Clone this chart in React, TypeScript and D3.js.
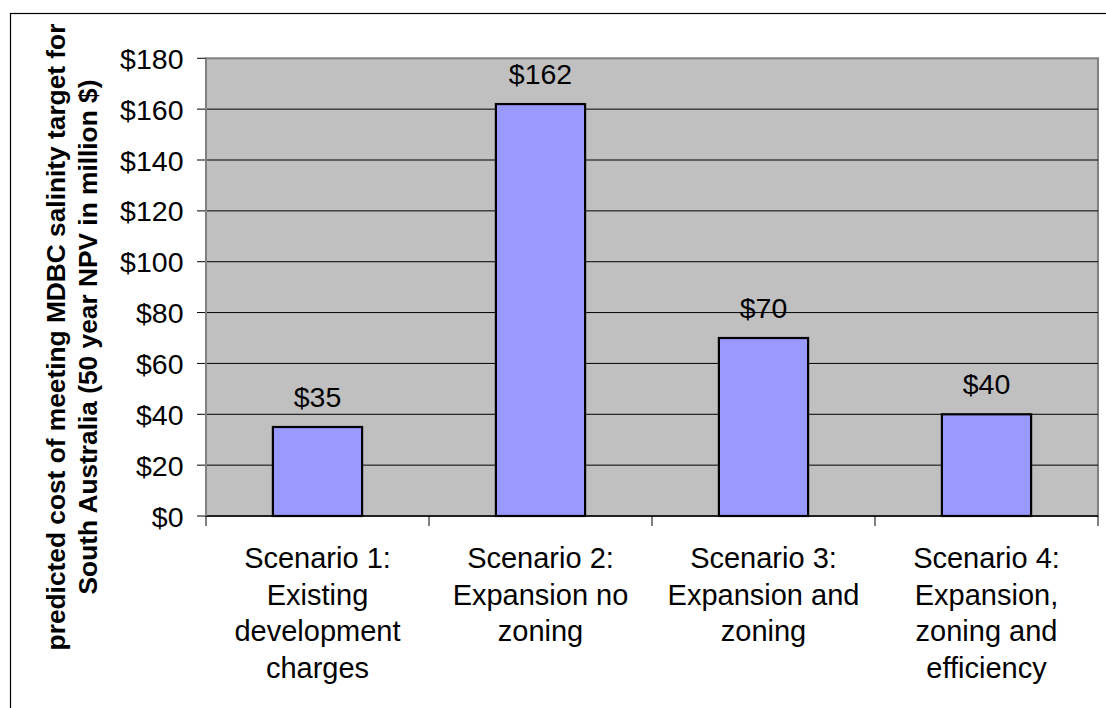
import React from "react";
import * as d3 from "d3";

const categories = [
  ["Scenario 1:", "Existing", "development", "charges"],
  ["Scenario 2:", "Expansion no", "zoning"],
  ["Scenario 3:", "Expansion and", "zoning"],
  ["Scenario 4:", "Expansion,", "zoning and", "efficiency"],
];
const categoryKeys = ["S1", "S2", "S3", "S4"];
const values = [35, 162, 70, 40];
const yTicks = [0, 20, 40, 60, 80, 100, 120, 140, 160, 180];
const yTitle = [
  "predicted cost of meeting MDBC salinity target for",
  "South Australia (50 year NPV in million $)",
];

const W = 1106;
const H = 708;
const plot = { left: 206, right: 1098, top: 58.3, bottom: 516 };
const FONT = "'Liberation Sans', Arial, sans-serif";

export default function App() {
  const x = d3
    .scaleBand<string>()
    .domain(categoryKeys)
    .range([plot.left, plot.right])
    .padding(0);
  const y = d3.scaleLinear().domain([0, 180]).range([plot.bottom, plot.top]);
  const bw = x.bandwidth();
  const barW = bw * 0.4;
  const boundaries = [...categoryKeys.map((k) => x(k)!), plot.right];

  return (
    <svg
      width={W}
      height={H}
      style={{ position: "absolute", left: 0, top: 0, background: "#fff" }}
      fontFamily={FONT}
    >
      <rect x={0} y={0} width={W} height={H} fill="#fff" />
      {/* outer frame */}
      <rect x={10.5} y={13.5} width={W + 20} height={H + 20} fill="none" stroke="#000" strokeWidth={1.2} />
      {/* plot area */}
      <rect
        x={plot.left}
        y={plot.top}
        width={plot.right - plot.left}
        height={plot.bottom - plot.top}
        fill="#C0C0C0"
        stroke="#808080"
        strokeWidth={2}
      />
      {/* gridlines */}
      {yTicks
        .filter((t) => t !== 0 && t !== 180)
        .map((t) => (
          <line key={t} x1={plot.left} x2={plot.right} y1={y(t)} y2={y(t)} stroke="#000" strokeWidth={1} />
        ))}
      {/* y ticks & labels */}
      {yTicks.map((t) => (
        <g key={"yt" + t}>
          <line x1={197} x2={plot.left} y1={y(t)} y2={y(t)} stroke="#000" strokeWidth={1} />
          <text x={183.5} y={y(t) + 10.5} textAnchor="end" fontSize={28.5} fill="#000">
            {"$" + t}
          </text>
        </g>
      ))}
      {/* bars */}
      {values.map((v, i) => {
        const cx = x(categoryKeys[i])! + bw / 2;
        return (
          <g key={"b" + i}>
            <rect
              x={cx - barW / 2}
              y={y(v)}
              width={barW}
              height={y(0) - y(v)}
              fill="#9999FF"
              stroke="#000"
              strokeWidth={2.2}
            />
            <text x={cx} y={y(v) - 20} textAnchor="middle" fontSize={28.5} fill="#000">
              {"$" + v}
            </text>
          </g>
        );
      })}
      {/* x axis */}
      <line x1={plot.left} x2={plot.right} y1={plot.bottom} y2={plot.bottom} stroke="#000" strokeWidth={1.5} />
      <line x1={plot.left} x2={plot.left} y1={plot.top} y2={plot.bottom} stroke="#808080" strokeWidth={2} />
      {boundaries.map((b, i) => (
        <line key={"xt" + i} x1={b} x2={b} y1={plot.bottom} y2={526} stroke="#000" strokeWidth={1} />
      ))}
      {categories.map((lines, i) => {
        const cx = x(categoryKeys[i])! + bw / 2;
        return (
          <text key={"c" + i} textAnchor="middle" fontSize={29} fill="#000">
            {lines.map((l, j) => (
              <tspan key={j} x={cx} y={568 + j * 36.7}>
                {l}
              </tspan>
            ))}
          </text>
        );
      })}
      {/* y title */}
      <text
        transform={`translate(0, 337) rotate(-90)`}
        textAnchor="middle"
        fontSize={26.3}
        fontWeight="bold"
        fill="#000"
      >
        <tspan x={0} y={65}>{yTitle[0]}</tspan>
        <tspan x={0} y={97}>{yTitle[1]}</tspan>
      </text>
    </svg>
  );
}
